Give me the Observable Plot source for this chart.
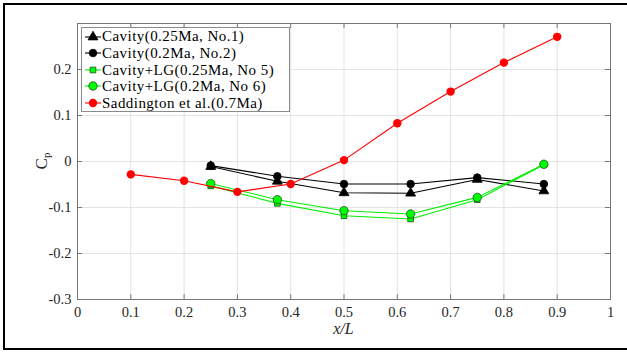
<!DOCTYPE html>
<html><head><meta charset="utf-8">
<script src="https://cdn.jsdelivr.net/npm/d3@7"></script>
<script src="https://cdn.jsdelivr.net/npm/@observablehq/plot@0.6"></script>
<style>
body{margin:0;background:#fff;}
#wrap{position:relative;width:627px;height:352px;overflow:hidden;font-family:'Liberation Serif','Times New Roman',Tinos,'DejaVu Serif',serif;color:#262626;}
#border{position:absolute;left:3px;top:3px;width:660px;height:347px;border:2.5px solid #000;box-sizing:border-box;pointer-events:none;}
#chart{position:absolute;left:0;top:0;}
#xlabel{position:absolute;left:0;width:687px;top:320px;text-align:center;font-style:italic;font-size:16px;}
#ylabel{position:absolute;left:42px;top:161px;font-size:17px;transform:translate(-50%,-50%) rotate(-90deg);white-space:nowrap;}
#ylabel sub{font-size:11px;vertical-align:-3px;}
#legend{position:absolute;left:81px;top:27px;width:209px;height:85px;border:1px solid #8a8a8a;background:#fff;box-sizing:border-box;}
.row{position:absolute;left:0;height:16.6px;line-height:16.6px;display:flex;align-items:center;font-size:15px;letter-spacing:0.45px;color:#000;white-space:nowrap;}
.row svg{margin-left:3px;margin-right:1px;}
</style></head>
<body>
<div id="wrap">
  <div id="chart"></div>
  <div id="xlabel">x/L</div>
  <div id="ylabel">C<sub>p</sub></div>
  <div id="legend"></div>
  <div id="border"></div>
</div>
<script>
// Data
const xCavity = [0.25, 0.375, 0.5, 0.625, 0.75, 0.875];
const cavityNo1 = [-0.011, -0.043, -0.068, -0.069, -0.039, -0.064];
const cavityNo2 = [-0.009, -0.032, -0.049, -0.049, -0.035, -0.049];
const cavityLGNo5 = [-0.053, -0.091, -0.118, -0.125, -0.083, -0.007];
const cavityLGNo6 = [-0.048, -0.083, -0.107, -0.114, -0.078, -0.006];
const xSadd = [0.1, 0.2, 0.3, 0.4, 0.5, 0.6, 0.7, 0.8, 0.9];
const saddington = [-0.028, -0.042, -0.066, -0.049, 0.003, 0.083, 0.152, 0.215, 0.271];
const xTicks = [0, 0.1, 0.2, 0.3, 0.4, 0.5, 0.6, 0.7, 0.8, 0.9, 1];
const yTicks = [-0.3, -0.2, -0.1, 0, 0.1, 0.2];
const yGrid = [-0.3, -0.2, -0.1, 0, 0.1, 0.2, 0.3];

const FONT = "'Liberation Serif','Times New Roman',Tinos,'DejaVu Serif',serif";
const series = [
  {name: "Cavity(0.25Ma, No.1)", x: xCavity, y: cavityNo1, stroke: "#000", fill: "#000", markStroke: "#000", symbol: "triangle", r: 3.7},
  {name: "Cavity(0.2Ma, No.2)", x: xCavity, y: cavityNo2, stroke: "#000", fill: "#000", markStroke: "#000", symbol: "circle", r: 3.8},
  {name: "Cavity+LG(0.25Ma, No 5)", x: xCavity, y: cavityLGNo5, stroke: "#00ee00", fill: "#00ff00", markStroke: "#1a4d1a", symbol: "square", r: 3.2},
  {name: "Cavity+LG(0.2Ma, No 6)", x: xCavity, y: cavityLGNo6, stroke: "#00ee00", fill: "#00ff00", markStroke: "#1a4d1a", symbol: "circle", r: 4.2},
  {name: "Saddington et al.(0.7Ma)", x: xSadd, y: saddington, stroke: "#ff0000", fill: "#ff0000", markStroke: "none", symbol: "circle", r: 4.2}
];

const tickLenX = 0.0095, tickLenY = 0.0105;
const marks = [
  Plot.gridX(xTicks, {stroke: "#e3e3e3", strokeOpacity: 1}),
  Plot.gridY(yGrid, {stroke: "#e3e3e3", strokeOpacity: 1}),
  Plot.ruleX(xTicks, {y1: -0.3, y2: -0.3 + tickLenY, stroke: "#777"}),
  Plot.ruleX(xTicks, {y1: 0.3, y2: 0.3 - tickLenY, stroke: "#777"}),
  Plot.ruleY(yTicks, {x1: 0, x2: tickLenX, stroke: "#777"}),
  Plot.ruleY(yTicks, {x1: 1, x2: 1 - tickLenX, stroke: "#777"}),
  Plot.frame({stroke: "#777"}),
  Plot.axisX(xTicks, {tickSize: 0, tickPadding: 7, fontSize: 14.5, label: null, tickFormat: d => String(d), fill: "#262626", fontFamily: FONT}),
  Plot.axisY(yTicks, {tickSize: 0, tickPadding: 6, fontSize: 14.5, label: null, tickFormat: d => String(d), fill: "#262626", fontFamily: FONT})
];
for (const s of series) {
  const data = s.x.map((x, i) => ({x, y: s.y[i]}));
  marks.push(Plot.line(data, {x: "x", y: "y", stroke: s.stroke, strokeWidth: 1.1}));
  marks.push(Plot.dot(data, {x: "x", y: "y", symbol: s.symbol, r: s.r, fill: s.fill, stroke: s.markStroke, strokeWidth: 0.8}));
}

const chart = Plot.plot({
  width: 627, height: 352,
  marginLeft: 77, marginRight: 17, marginTop: 23, marginBottom: 53,
  x: {domain: [0, 1]},
  y: {domain: [-0.3, 0.3]},
  style: {fontFamily: FONT, background: "transparent"},
  marks
});
document.getElementById("chart").appendChild(chart);

// Legend
const legend = d3.select("#legend");
series.forEach((s, i) => {
  const row = legend.append("div").attr("class", "row").style("top", (0.4 + i * 16.6) + "px");
  const svg = row.append("svg").attr("width", 16).attr("height", 16);
  svg.append("line").attr("x1", 0).attr("x2", 16).attr("y1", 8).attr("y2", 8).attr("stroke", s.stroke).attr("stroke-width", 1.1);
  const sym = {triangle: d3.symbolTriangle, circle: d3.symbolCircle, square: d3.symbolSquare}[s.symbol];
  svg.append("path").attr("transform", "translate(8,8)")
    .attr("d", d3.symbol(sym, Math.PI * s.r * s.r)())
    .attr("fill", s.fill).attr("stroke", s.markStroke).attr("stroke-width", 0.8);
  row.append("span").text(s.name);
});
</script>
</body></html>
